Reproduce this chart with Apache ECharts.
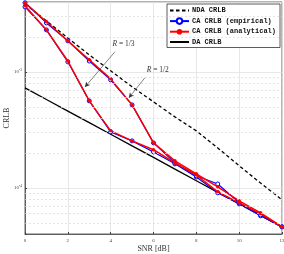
<!DOCTYPE html>
<html><head><meta charset="utf-8">
<script src="https://cdn.jsdelivr.net/npm/echarts@6/dist/echarts.min.js"></script>
<style>html,body{margin:0;padding:0;background:#fff}#c{width:284px;height:254px}</style>
</head><body><div id="c"></div>
<script>
var snr = [0,1,2,3,4,5,6,7,8,9,10,11,12];
var ndaCrlb  = [3.85e-3,2.75e-3,1.96e-3,1.40e-3,1.02e-3,7.43e-4,5.51e-4,4.09e-4,3.10e-4,2.21e-4,1.55e-4,1.10e-4,7.88e-5];
var daCrlb   = [7.28e-4,5.78e-4,4.59e-4,3.65e-4,2.90e-4,2.30e-4,1.83e-4,1.45e-4,1.15e-4,9.15e-5,7.28e-5,5.78e-5,4.59e-5];
var caEmpR13 = [3.63e-3,2.30e-3,1.22e-3,5.62e-4,3.04e-4,2.54e-4,2.04e-4,1.61e-4,1.24e-4,9.06e-5,7.28e-5,5.74e-5,4.61e-5];
var caAnaR13 = [3.71e-3,2.30e-3,1.24e-3,5.62e-4,3.10e-4,2.54e-4,2.13e-4,1.64e-4,1.29e-4,9.24e-5,7.43e-5,5.97e-5,4.61e-5];
var caEmpR12 = [3.94e-3,2.64e-3,1.85e-3,1.24e-3,8.53e-4,5.19e-4,2.44e-4,1.64e-4,1.27e-4,1.08e-4,7.43e-5,5.85e-5,4.61e-5];
var caAnaR12 = [3.94e-3,2.70e-3,1.85e-3,1.27e-3,8.70e-4,5.19e-4,2.44e-4,1.71e-4,1.32e-4,1.02e-4,7.73e-5,6.09e-5,4.61e-5];
var minorGrid = [5e-5,6e-5,7e-5,8e-5,9e-5,2e-4,3e-4,4e-4,5e-4,6e-4,7e-4,8e-4,9e-4,2e-3,3e-3];
var legendNames = ['NDA CRLB','CA CRLB (empirical)','CA CRLB (analytical)','DA CRLB'];
var annR13 = {rate:'1/3', at:[4.6,1.72e-3], from:[4.2,1.49e-3], to:[2.8,7.4e-4]};
var annR12 = {rate:'1/2', at:[6.2,1.04e-3], from:[5.6,8.9e-4], to:[4.85,5.97e-4]};

function pairs(ys){ return snr.map(function(x,i){return [x, ys[i]];}); }

var chart = echarts.init(document.getElementById('c'), null, {renderer:'canvas'});
var serif = 'Liberation Serif';
var emp = function(ys){ return {type:'line', name:legendNames[1], data:pairs(ys), symbol:'circle', symbolSize:4,
  showSymbol:true, itemStyle:{color:'#fff', borderColor:'#0000ff', borderWidth:1},
  lineStyle:{color:'#0000ff', width:1.2}, z:3}; };
var ana = function(ys){ return {type:'line', name:legendNames[2], data:pairs(ys), symbol:'circle', symbolSize:3.5,
  itemStyle:{color:'#ff0000', borderColor:'#ff0000', borderWidth:0}, lineStyle:{color:'#ff0000', width:1.5}, z:4}; };
function ann(a){
  return {type:'line', data:[], silent:true,
    markLine:{silent:true, symbol:['none','arrow'], symbolSize:[4,5], animation:false,
      lineStyle:{color:'#333', width:0.6, type:'solid'}, label:{show:false},
      data:[[{coord:a.from},{coord:a.to}]]},
    markPoint:{silent:true, symbol:'circle', symbolSize:0, animation:false,
      label:{show:true, position:'inside', formatter:'{i|R} = '+a.rate, fontFamily:serif, fontSize:7.5, color:'#333',
        rich:{i:{fontStyle:'italic', fontFamily:serif, fontSize:7.5, color:'#333'}}},
      data:[{coord:a.at}]}};
}
var option = {
  animation:false,
  grid:{left:25, right:2, top:2, bottom:20, containLabel:false, outerBoundsMode:'none', show:true, borderColor:'#404040', borderWidth:0.8, backgroundColor:'#fff'},
  legend:{data:[
      {name:legendNames[0], itemStyle:{opacity:0}},
      {name:legendNames[1]},
      {name:legendNames[2]},
      {name:legendNames[3], itemStyle:{opacity:0}}],
    orient:'vertical', left:167, top:4, padding:[3,4,2,2], itemGap:3.3, itemWidth:19, itemHeight:7,
    backgroundColor:'#fff', borderColor:'#333', borderWidth:0.8,
    textStyle:{fontFamily:'Liberation Mono', fontWeight:'bold', fontSize:7, color:'#111', padding:[0,0,0,-2]}},
  xAxis:{type:'value', min:0, max:12, interval:2, name:'SNR [dB]', nameLocation:'middle', nameGap:11, nameMoveOverlap:false,
    nameTextStyle:{fontFamily:serif, fontSize:8, color:'#333'},
    axisLine:{show:true, onZero:false, lineStyle:{color:'#404040', width:0.8}},
    axisTick:{inside:true, length:2, lineStyle:{color:'#404040'}},
    axisLabel:{fontFamily:serif, fontSize:5, color:'#444', margin:4},
    splitLine:{show:true, lineStyle:{color:'#e2e2e2', width:0.8}}},
  yAxis:{type:'log', logBase:10, min:4e-5, max:4e-3, name:'CRLB', nameLocation:'middle', nameGap:14, nameMoveOverlap:false,
    nameTextStyle:{fontFamily:serif, fontSize:8, color:'#333'},
    axisLine:{show:true, lineStyle:{color:'#404040', width:0.8}},
    axisTick:{inside:true, length:2, lineStyle:{color:'#404040'}},
    axisLabel:{fontFamily:serif, fontSize:5, color:'#444', margin:3,
      formatter:function(v){ var e=Math.log10(v); if (Math.abs(e-Math.round(e))<1e-6) return '10{s|'+Math.round(e)+'}'; return ''; },
      rich:{s:{fontSize:3.5, verticalAlign:'top', fontFamily:serif, color:'#444', padding:[0,0,4,0]}}},
    splitLine:{show:true, lineStyle:{color:'#e2e2e2', width:0.8}}},
  series:[
    {type:'line', data:[], silent:true, z:1,
      markLine:{silent:true, symbol:['none','none'], animation:false, label:{show:false},
        lineStyle:{color:'#dadada', width:0.7, type:[2,2]},
        data:minorGrid.map(function(v){return [{coord:[snr[0],v]},{coord:[snr[snr.length-1],v]}];})}},
    {type:'line', name:legendNames[0], data:pairs(ndaCrlb), symbol:'none', lineStyle:{color:'#000', width:1.3, type:[3.5,2.5]}, itemStyle:{color:'#000'}, z:2},
    emp(caEmpR13), emp(caEmpR12), ana(caAnaR13), ana(caAnaR12),
    {type:'line', name:legendNames[3], data:pairs(daCrlb), symbol:'none', lineStyle:{color:'#000', width:1.3}, itemStyle:{color:'#000'}, z:2},
    ann(annR13), ann(annR12)
  ]
};
chart.setOption(option);
</script></body></html>
